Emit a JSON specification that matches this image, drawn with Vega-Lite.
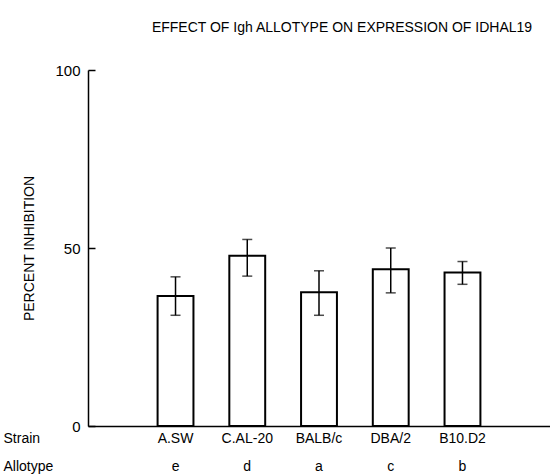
{
  "$schema": "https://vega.github.io/schema/vega-lite/v6.json",
  "autosize": "none",
  "padding": {"left": 88, "top": 70, "right": 0, "bottom": 50},
  "width": 462,
  "height": 356,
  "background": "white",
  "config": {
    "view": {"stroke": null},
    "font": "Liberation Sans",
    "axis": {"grid": false, "domainColor": "black", "tickColor": "black", "labelColor": "black", "titleColor": "black", "labelFont": "Liberation Sans", "titleFont": "Liberation Sans", "titleFontWeight": "normal"}
  },
  "title": {
    "text": "EFFECT OF Igh ALLOTYPE ON EXPRESSION OF IDHAL19",
    "fontSize": 14,
    "fontWeight": "normal",
    "font": "Liberation Sans",
    "color": "black",
    "anchor": "middle",
    "dx": 23,
    "offset": 28
  },
  "data": {
    "values": [
      {"Strain": "A.SW", "Allotype": "e", "value": 36.5, "lo": 31.1, "hi": 41.9},
      {"Strain": "C.AL-20", "Allotype": "d", "value": 47.8, "lo": 42.1, "hi": 52.4},
      {"Strain": "BALB/c", "Allotype": "a", "value": 37.6, "lo": 31.1, "hi": 43.6},
      {"Strain": "DBA/2", "Allotype": "c", "value": 44.0, "lo": 37.4, "hi": 50.0},
      {"Strain": "B10.D2", "Allotype": "b", "value": 43.1, "lo": 39.8, "hi": 46.2}
    ]
  },
  "encoding": {
    "x": {
      "field": "Strain",
      "type": "nominal",
      "sort": null,
      "scale": {"paddingInner": 0.5, "paddingOuter": 0.97},
      "axis": {
        "labelAngle": 0,
        "ticks": false,
        "domainWidth": 1.5,
        "labelFontSize": 14,
        "labelPadding": 5,
        "labelBaseline": "top",
        "labelLineHeight": 28,
        "labelExpr": "[datum.label, {'A.SW':'e','C.AL-20':'d','BALB/c':'a','DBA/2':'c','B10.D2':'b'}[datum.label]]",
        "title": ["Strain", "Allotype"],
        "titleFontSize": 14,
        "titleAlign": "left",
        "titleBaseline": "top",
        "titleLineHeight": 28,
        "titleX": -85,
        "titleY": 5
      }
    }
  },
  "layer": [
    {
      "mark": {"type": "bar", "fill": "white", "stroke": "black", "strokeWidth": 2},
      "encoding": {
        "y": {
          "field": "value",
          "type": "quantitative",
          "scale": {"domain": [0, 100], "nice": false},
          "axis": {
            "values": [0, 50, 100],
            "tickSize": -7,
            "tickWidth": 1.5,
            "domainWidth": 1.5,
            "labelFontSize": 15,
            "labelPadding": 15,
            "title": "PERCENT INHIBITION",
            "titleFontSize": 14,
            "titlePadding": 18
          }
        }
      }
    },
    {
      "mark": {"type": "rule", "color": "black", "strokeWidth": 1.5},
      "encoding": {
        "y": {"field": "lo", "type": "quantitative"},
        "y2": {"field": "hi"}
      }
    },
    {
      "mark": {"type": "tick", "color": "black", "thickness": 1.5, "size": 10},
      "encoding": {"y": {"field": "lo", "type": "quantitative"}}
    },
    {
      "mark": {"type": "tick", "color": "black", "thickness": 1.5, "size": 10},
      "encoding": {"y": {"field": "hi", "type": "quantitative"}}
    }
  ]
}
